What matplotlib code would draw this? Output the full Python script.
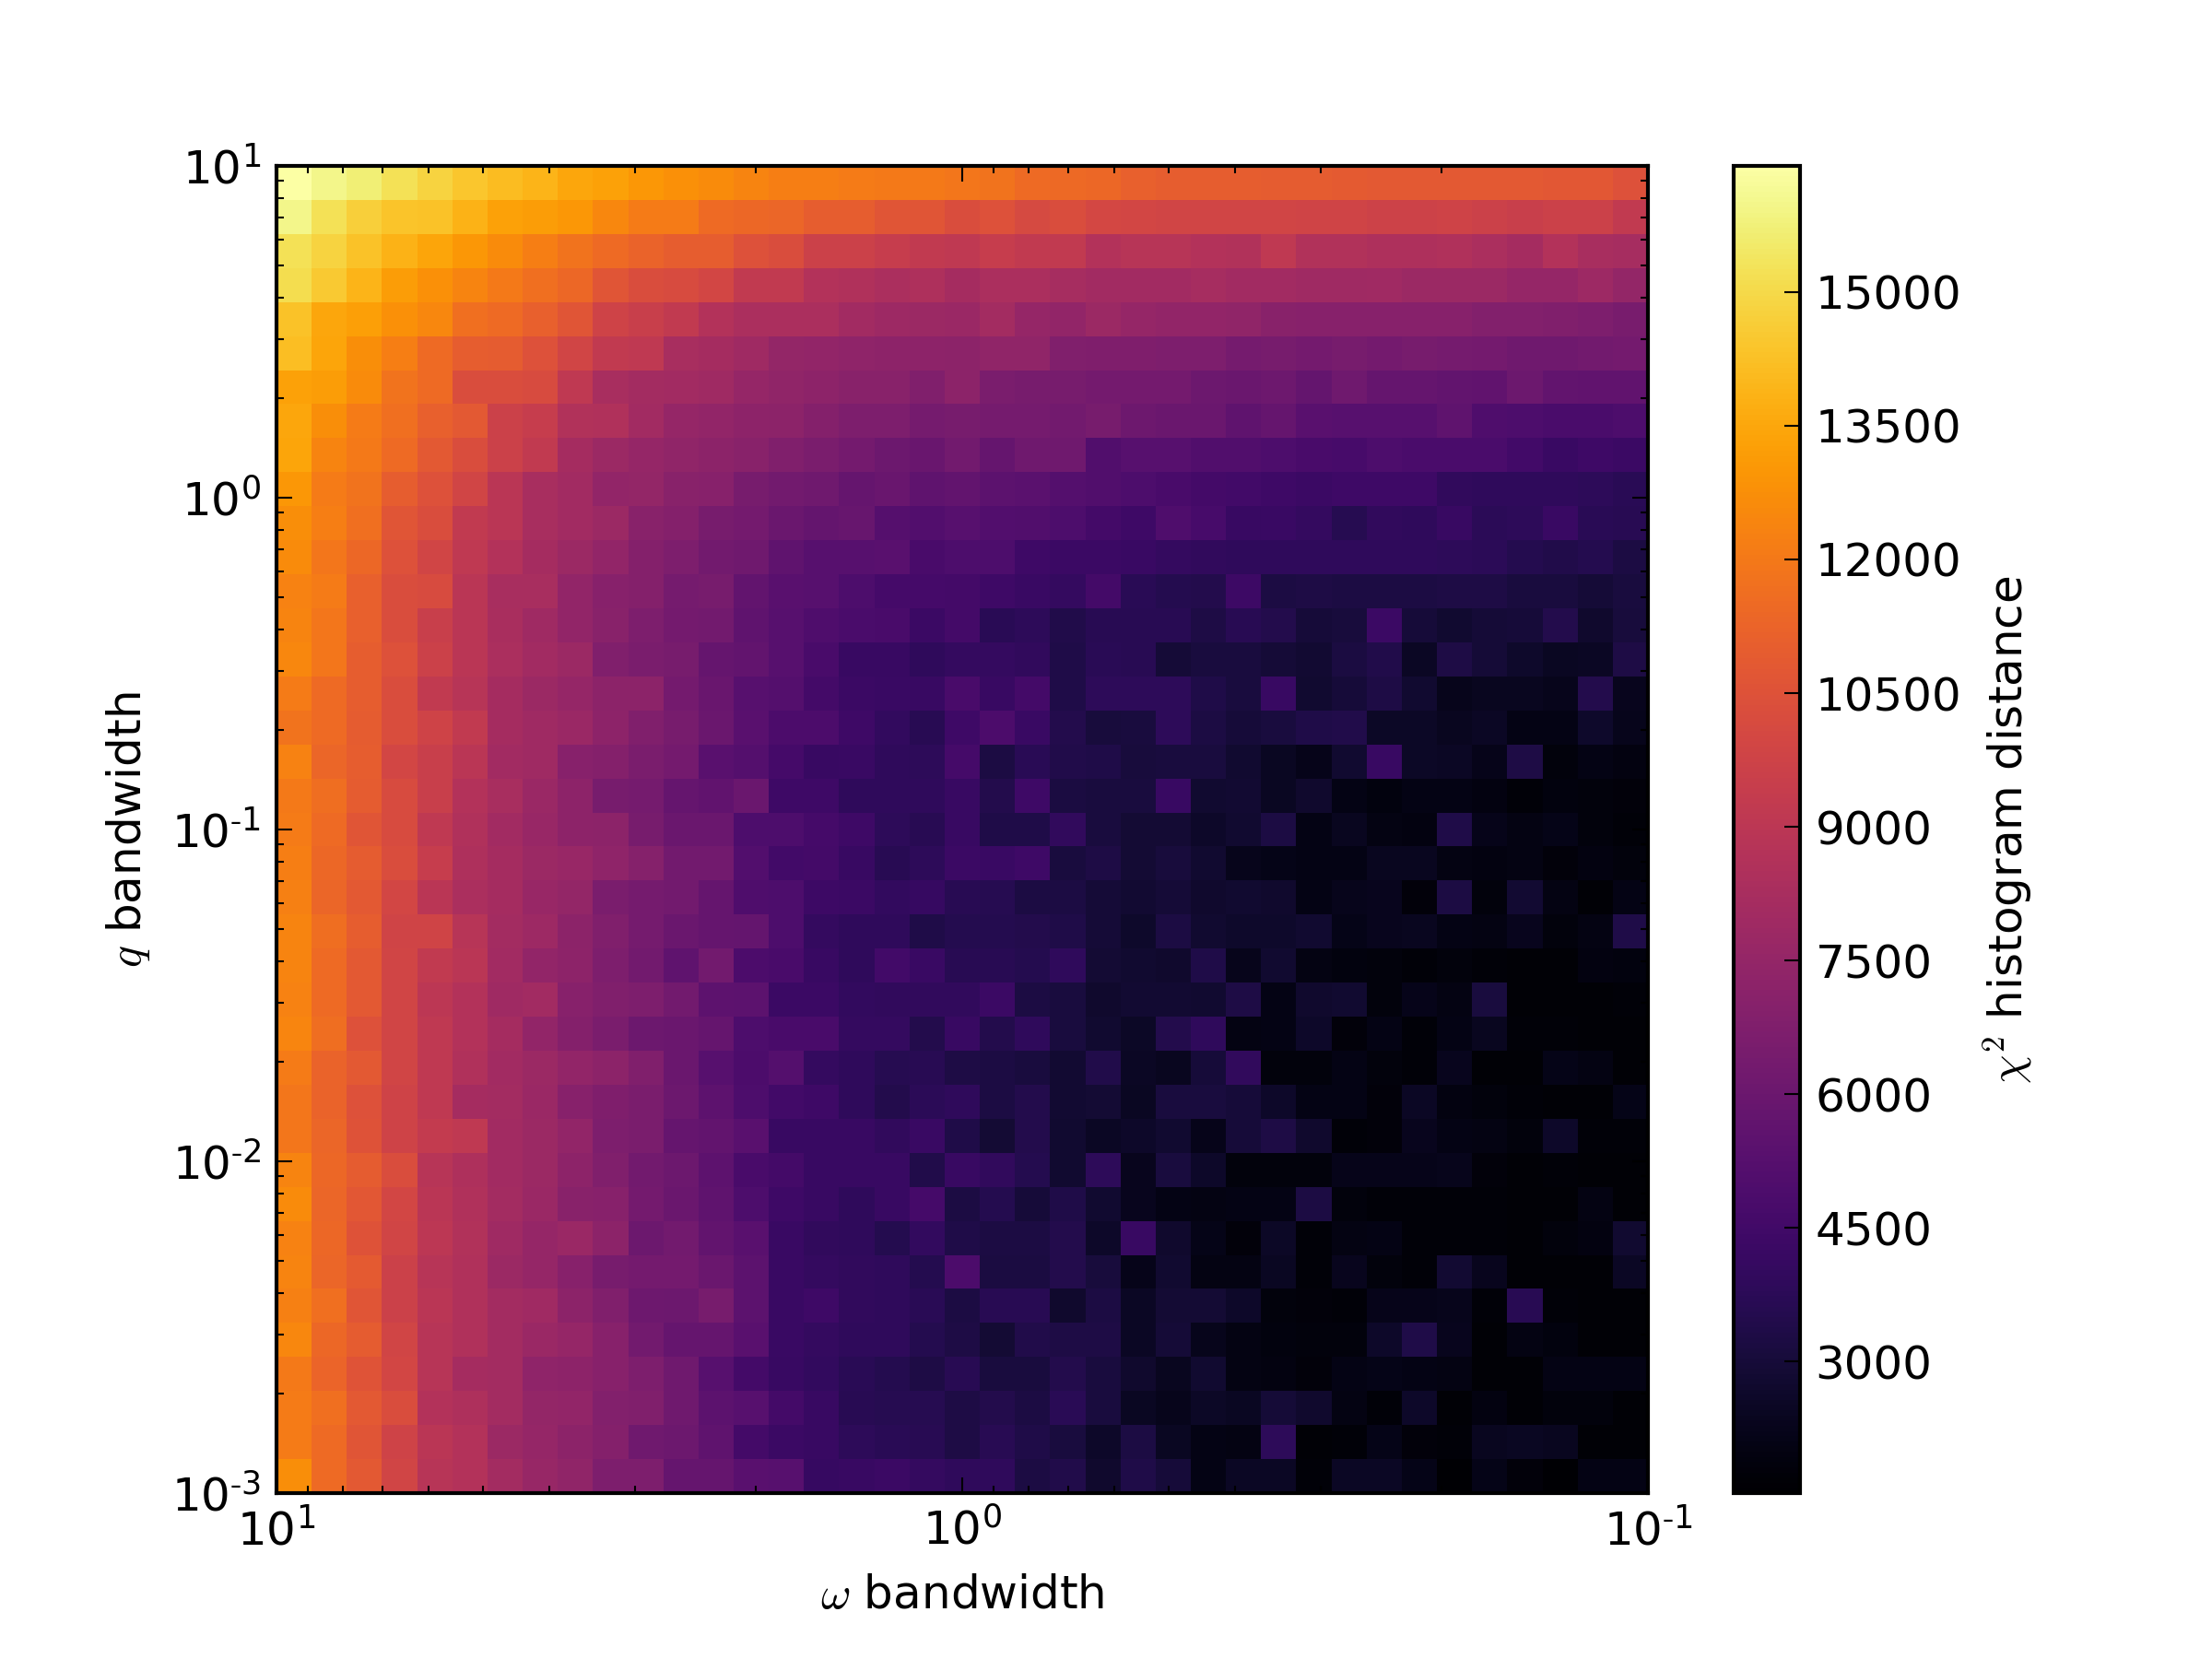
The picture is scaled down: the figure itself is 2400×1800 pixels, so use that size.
import numpy as np
import matplotlib
matplotlib.use('Agg')
import matplotlib.pyplot as plt
from matplotlib.ticker import FuncFormatter

# chi2 distance per cell, top row first, left column first
distance = [
    [16400,16000,15700,15200,14800,14400,14100,13900,13500,13300,13000,12800,12600,12400,12200,12200,12100,12050,12000,11900,11800,11500,11450,11400,11100,11000,10950,10950,10900,10900,10850,10800,10800,10800,10800,10800,10750,10750,10450],
    [16000,15200,14700,14350,14300,13800,13300,13200,13000,12500,12100,12100,11500,11400,11300,11000,10950,10600,10600,10250,10450,10100,10250,10000,9950,9900,9850,9850,9850,9800,9800,9700,9700,9750,9650,9500,9650,9650,9250],
    [15200,14800,14300,13800,13400,13000,12600,12200,11800,11500,11200,11000,11000,10450,10300,9650,9650,9400,9250,9100,9400,9250,9250,8650,8800,8800,8650,8600,9100,8600,8600,8500,8500,8550,8350,8150,8650,8250,8200],
    [15100,14500,13900,13200,12800,12400,12000,11700,11400,10600,10250,10150,9950,9250,9250,8650,8550,8350,8450,8150,8350,8350,8200,8000,8000,8000,8200,8000,8000,7900,7900,7950,7800,7800,7800,7550,7550,7850,7500],
    [14300,13500,13250,12800,12500,11700,11500,11100,10650,9750,9500,9250,8650,8350,8350,8350,8000,7850,7800,7700,8050,7550,7450,7750,7550,7400,7400,7350,7100,7050,7050,7050,7050,7000,6850,6850,6800,6700,6500],
    [14200,13400,12700,12200,11500,11000,10900,10450,9850,9250,9100,8250,8100,7900,7500,7450,7300,7250,7250,7200,7350,7350,6800,6750,6750,6650,6650,6400,6450,6300,6450,6300,6450,6400,6300,6150,6150,6250,6300],
    [13300,13200,12600,11800,11500,10300,10300,10150,9100,8250,8050,8000,7900,7550,7350,7250,7100,7100,6800,7200,6550,6450,6450,6300,6300,6300,6050,6000,6100,5750,6150,5800,5800,5700,5650,6050,5700,5650,5650],
    [13500,12700,12100,11700,11100,10800,9650,9400,8600,8550,8000,7550,7450,7250,7200,6900,6700,6700,6400,6450,6400,6400,6250,6450,6100,6000,5950,5550,5800,5350,5250,5250,5250,5550,5000,4950,4800,4800,4950],
    [13400,12400,12000,11500,10800,10250,9650,9250,8150,7800,7550,7350,7200,7100,6800,6550,6300,6050,5900,6250,5800,6150,6150,5050,5250,5300,5050,5050,4900,4750,4700,4950,4800,4800,4800,4500,4250,4400,4300],
    [13000,12100,11800,11000,10450,9850,8950,8250,8000,7450,7500,7100,7000,6450,6250,6150,5800,5900,5550,5700,5450,5400,5150,5050,4950,4750,4550,4500,4400,4300,4400,4400,4400,3950,3900,3900,3900,3850,3700],
    [12700,12200,11700,10650,10250,9250,8950,8250,8000,7800,7100,6900,6450,6300,6000,5750,5850,5200,5100,5250,5100,5050,4900,4550,4400,5000,4700,4150,4250,4050,3600,3950,3900,4150,3750,3800,4250,3700,3650],
    [12600,11900,11400,10450,9850,9100,8650,8150,7800,7450,6900,6700,6250,6150,5550,5250,5250,5350,4750,4950,4950,4400,4300,4300,4250,4050,3950,3900,3900,3900,3900,3900,3900,3800,3750,3550,3400,3550,3250],
    [12300,12100,11100,10250,10150,8950,8250,8250,7400,7000,6900,6400,6450,5700,5350,5250,4950,4650,4650,4550,4400,4250,4050,4550,3700,3550,3500,4350,3250,3300,3250,3250,3250,3300,3300,3100,3100,2950,3100],
    [12400,11900,11100,10250,9500,8950,8300,7900,7450,7100,6700,6350,6250,5550,5300,5000,4800,4750,4300,4550,3700,3800,3400,3650,3650,3650,3300,3650,3500,3000,3050,4300,3000,2800,2950,3000,3500,2700,3050],
    [12500,11900,11000,10450,9650,8950,8350,8000,7800,6800,6550,6450,5800,5700,5250,4750,4200,4150,3900,4050,4050,3950,3350,3700,3650,2950,3150,3150,2950,2850,3200,3400,2500,3300,2950,2650,2400,2500,3300],
    [12100,11500,11000,10250,9250,8800,8150,7800,7550,7200,7200,6300,5900,5250,5150,4550,4300,4250,4150,4750,4150,4550,3350,3800,3800,3850,3350,3150,4150,2800,3000,3300,2750,2250,2350,2350,2250,3450,2300],
    [11800,11500,10900,10300,9750,9250,8150,7900,7700,7250,6800,6450,6000,5350,4850,4850,4400,4000,3650,4400,4850,4250,3500,3050,3100,3800,3250,3000,3100,3350,3400,2550,2550,2350,2500,2050,2050,2650,2250],
    [12300,11300,11000,9950,9500,8950,8000,7900,7000,6900,6550,6300,5350,5150,4650,4150,4250,3900,3850,4650,3250,3700,3400,3350,3050,3100,3100,2800,2400,2200,2800,4150,2550,2500,2200,3300,1850,2050,1950],
    [12000,11600,10900,10150,9500,8650,8250,7700,7250,6450,6400,5800,5650,6000,4400,4400,3900,3900,3900,4150,3500,4400,3200,3150,3150,4150,2800,2850,2400,2700,2050,1900,2050,2100,1950,1750,1900,1850,1800],
    [12100,11500,10650,10150,9100,8550,8000,7650,7250,7200,6450,6000,5950,4950,4900,4650,4400,3800,3650,4150,3350,3350,3950,3150,2900,2900,2600,2800,3250,2100,2350,2000,1950,3350,2200,2000,2150,1850,1750],
    [12200,11400,10900,10250,9400,8450,8150,7800,7650,7300,6950,6250,6250,5100,4500,4550,4150,3650,3800,4300,4250,4400,3100,3300,2900,3050,2750,2250,2150,2100,2050,2350,2350,2000,1950,2000,1800,1950,1850],
    [12250,11300,10800,9950,8950,8350,8150,7650,7500,6550,6400,6250,5800,5000,4950,4350,4300,4000,4100,3650,3600,3250,3250,2950,2850,2950,2700,2800,2700,2050,2250,2300,1800,3250,1850,2850,2000,1650,2050],
    [12350,11600,10950,9800,9800,8800,8050,7850,7200,6800,6400,6000,5800,5750,4950,4050,3900,3900,3350,3550,3550,3450,3350,2950,2650,3250,2800,2650,2650,2750,2150,2300,2350,2100,2000,2300,1850,2000,3350],
    [12350,11500,10800,9850,9250,8950,8000,7400,7250,6700,6250,5550,6250,4850,4750,4150,3900,4500,4250,3650,3650,3550,3900,2900,2750,2700,3350,2250,2800,2000,1900,1850,1750,1850,1750,1650,1650,1950,1900],
    [12300,11500,10800,9850,9000,8650,7900,8000,7000,6800,6700,6250,5500,5450,4300,4300,4000,3950,3950,3950,4300,3250,3150,2700,2850,2850,2800,3300,2050,2700,2750,1850,2200,2000,3150,1650,1650,1650,1700],
    [12450,11600,10450,9850,9100,8650,8150,7400,6900,6550,6050,5950,5800,4950,4750,4750,4050,4050,3500,4150,3500,3900,3150,2800,2550,3500,3900,2000,2050,2600,1800,2050,1750,2050,2350,1700,1700,1650,1650],
    [12100,11200,10800,9900,9100,8550,8000,7800,7400,7200,6800,5950,5250,4850,5150,4050,3900,3600,3650,3300,3250,3150,2850,3400,2500,2350,3000,3950,1850,1850,2100,1850,1700,2300,1650,1650,2150,2000,1650],
    [11900,11200,10450,9750,9100,8150,8050,7700,7000,6750,6550,6050,5500,4950,4500,4400,3900,3450,3750,3900,3250,3500,2850,2900,2400,3100,3150,3000,2600,2100,2050,1800,2500,1950,1850,1750,1650,1650,2150],
    [11900,11300,10500,9750,9300,9100,8000,7800,7400,6650,6550,5800,5700,5350,4150,4200,4150,3950,4250,3350,2900,3500,2800,2500,2600,2800,2200,3000,3300,2700,1750,1800,2300,2100,2000,1850,2600,1700,1750],
    [12350,11400,10900,10300,8800,8450,8000,7800,7250,6800,6250,6050,5500,4750,4550,4200,4150,4150,3400,4150,3950,3550,2800,3800,2300,3100,2600,1850,1850,1850,2200,2200,2200,2250,1800,1650,1750,1650,1650],
    [12600,11300,10750,9950,8950,8550,8050,7700,7100,7000,6300,6000,5550,4900,4400,4150,3900,4150,4650,3250,3550,3000,3350,2800,2300,2100,2000,2050,2050,3250,1850,1700,1700,1700,1700,1650,1650,2000,1650],
    [12300,11400,10500,9850,9000,8600,7900,7550,7700,7200,6050,6250,5700,5350,4250,3950,3900,3550,4000,3350,3250,3250,3500,2600,4150,2700,2150,1800,2550,1700,2000,2050,1700,1700,1700,1650,1850,1950,2750],
    [12400,11300,10850,9650,8850,8550,7800,7550,7000,6450,6300,6300,6000,5450,4250,4050,3950,3900,3550,4850,3200,3200,3450,3050,2200,2800,2000,2000,2400,1700,2300,1850,1700,2850,2300,1650,1650,1650,2500],
    [12250,11700,10650,9650,8950,8550,8050,7950,7200,6800,6100,6050,6450,5450,4250,4400,3950,3900,3700,3250,3650,3650,2700,3250,2500,2900,2900,2600,1850,1800,1750,2200,2200,2250,1700,3650,1700,1650,1650],
    [12500,11400,10900,9850,8850,8550,8050,7700,7550,7000,6250,5800,5800,5350,4250,4050,3900,3900,3550,3300,2900,3400,3300,3300,2500,2950,2250,2000,1900,1850,1850,2600,3350,2300,1650,2000,1900,1650,1650],
    [12000,11250,10550,9950,8800,8150,8050,7300,7250,7050,6650,6150,5250,4600,4150,4000,3700,3550,3300,3650,3150,3100,3450,3150,2700,2350,2800,2000,1950,1800,2100,2150,2100,2000,1650,1650,2050,2100,2050],
    [12100,11700,10800,10300,8650,8450,8050,7500,7450,6850,6800,6150,5450,5250,4550,4150,3650,3600,3600,3300,3500,3250,3700,3150,2400,2250,2550,2450,2950,2700,2000,1750,2600,1650,1950,1650,1850,1850,1650],
    [12100,11500,10650,9750,8950,8650,7800,7550,7200,6900,6150,6050,5550,4550,4300,4150,3800,3700,3650,3300,3650,3350,3100,2600,3250,2400,2100,2000,3800,1650,1700,2150,1800,1750,2350,2400,2350,1650,1650],
    [12700,11500,10800,9850,8850,8650,8050,7600,7350,6700,6650,5800,5800,5350,5250,4100,4150,4300,4050,3900,3900,3250,3400,2700,3350,3000,2100,2500,2500,1750,2500,2500,2150,1530,2150,1800,1530,2100,2100],
]

omega_range = [1, -1]
q_range = [1, -3]
cbar_ticks = [3000, 4500, 6000, 7500, 9000, 10500, 12000, 13500, 15000]

plt.style.use('classic')
plt.rcParams['mathtext.fontset'] = 'cm'
plt.rcParams['ytick.alignment'] = 'center_baseline'

Z = np.array(distance)
ny, nx = Z.shape
xedges = np.logspace(omega_range[0], omega_range[1], nx + 1)
yedges = np.logspace(q_range[0], q_range[1], ny + 1)


def decade(v, pos):
    exp = int(round(np.log10(v)))
    if exp < 0:
        return r'$\mathdefault{10^{\text{-}%d}}$' % -exp
    return r'$\mathdefault{10^{%d}}$' % exp


fig = plt.figure(figsize=(8, 6), dpi=300)
ax = fig.add_subplot(111)
mesh = ax.pcolormesh(xedges, yedges, Z, cmap='inferno', vmin=1525, vmax=16415)
ax.set_xscale('log')
ax.set_yscale('log')
ax.set_xlim(10 ** omega_range[0], 10 ** omega_range[1])
ax.set_ylim(10 ** q_range[1], 10 ** q_range[0])
ax.xaxis.set_major_formatter(FuncFormatter(decade))
ax.yaxis.set_major_formatter(FuncFormatter(decade))
ax.set_xlabel(r'$\omega$ bandwidth')
ax.set_ylabel(r'$q$ bandwidth')

cb = fig.colorbar(mesh, ticks=cbar_ticks)
cb.set_label(r'$\chi^2$ histogram distance')

fig.savefig('out.png', dpi=300)
